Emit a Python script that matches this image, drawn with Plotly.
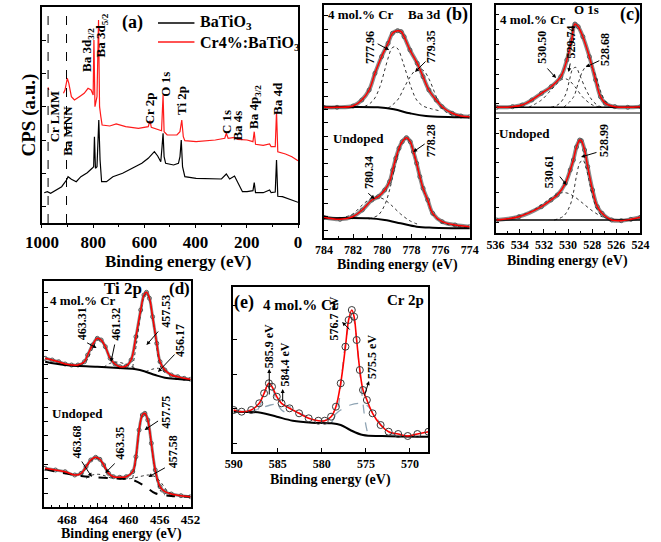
import plotly.graph_objects as go

W, H = 661, 542
FONT = "Liberation Serif"

# ---------------- (a) survey spectra ----------------
A_BLACK_E = [991, 979, 966, 948, 923, 904, 898, 885, 866, 848, 823, 804, 798, 795, 791, 785, 778, 773, 767, 748,
             723, 685, 648, 610, 585, 567, 561, 548, 536, 531, 527, 523, 517, 486, 467, 461, 456, 451, 442, 398,
             348, 299, 280, 267, 248, 236, 224, 217, 199, 176, 171, 166, 136, 111, 105, 89, 84, 79, 61, 36, 11, 0]
A_BLACK_Y = [30.3, 31.3, 29.7, 32.3, 36.3, 43, 46.3, 43.7, 41.3, 46.3, 50.3, 54.7, 56.3, 86.3, 54.7, 56.3, 103, 63, 41.3, 41.3,
             46.3, 49.7, 54.7, 59.7, 64.7, 69, 71.3, 67, 61.3, 76.3, 89.7, 66.3, 59.7, 58, 59.7, 66.3, 83, 56.3, 46.3, 44.7,
             44.7, 44, 49, 44, 47, 41.3, 34.7, 31.3, 31.3, 32.3, 40.3, 30.3, 30.3, 33, 30.3, 31, 63, 26.7, 26.3, 24, 22, 20.7]
A_RED_E = [976, 973, None, 916, 910, 901, 895, 885, 873, 854, 835, 820, 808, 800, 797, 793, 785, 779, 775, 770,
           765, 735, 710, 673, 623, 585, 578, 573, 548, 533, 527, 523, 511, 473, 461, 454, 448, 442, 398, 323,
           286, 280, 273, 248, 236, 199, 176, 171, 166, 136, 111, 105, 89, 84, 79, 49, 24, 0]
A_RED_Y = [135.7, 133, None, 129.7, 133, 144.7, 139.7, 126.3, 123, 126.3, 129.7, 134.7, 133, 128, 183, 116.3, 126.3, 203, 116.3, 106.3,
           98, 97, 99, 96.3, 94.7, 96.3, 102.3, 95.7, 93.7, 92.3, 128, 91.3, 88, 88, 91.3, 103, 86.3, 82.3, 81.3, 83,
           84.7, 89.7, 84.7, 85.7, 83.7, 83, 81.3, 91.3, 78.7, 77.7, 79, 76.3, 76.3, 111.3, 71.3, 69, 66.3, 62.3]
A_REF_LINES_E = [976, 904]
A_TICKS = [1000, 800, 600, 400, 200, 0]
A_PEAK_LABELS = ["Cr LMM", "Ba MNN", "Ba 3d<sub>3/2</sub>", "Ba 3d<sub>5/2</sub>", "Cr 2p", "O 1s", "Ti 2p",
                 "C 1s", "Ba 4s", "Ba 4p<sub>3/2</sub>", "Ba 4d"]
A_LEGEND = ["BaTiO<sub>3</sub>", "Cr4%:BaTiO<sub>3</sub>"]

# ---------------- (b) Ba 3d ----------------
B_TOP_E = [784, 783.1, 782.0, 781.4, 780.9, 780.5, 780.05, 779.6, 779.3, 778.95, 778.7, 778.5, 778.1, 777.6, 777.2,
           776.8, 776.3, 775.9, 775.2, 774.6, 774]
B_TOP_Y = [130.7, 130.7, 132, 138, 148, 164.7, 181.3, 194.7, 204.7, 207.3, 206.3, 201.3, 188, 174.7, 161.3,
           148, 138, 131.3, 124.7, 122, 121.3]
B_TOP_BG_E = [784, 780.3, 779.2, 778.1, 777.0, 774]
B_TOP_BG_Y = [130.7, 130.7, 128.7, 124.7, 122, 120.7]
B_TOP_C1_E = [782.03, 781.15, 780.6, 780.16, 779.83, 779.57, 779.35, 779.13, 778.91, 778.63, 778.3, 777.97, 777.64, 777.2, 776.65, 776.1]
B_TOP_C1_Y = [130.7, 132, 138, 151.3, 168, 181.3, 189.7, 191.3, 188.7, 178, 163, 148.7, 138, 132, 129.3, 127.3]
B_TOP_C2_E = [779.61, 778.95, 778.52, 778.08, 777.75, 777.42, 777.09, 776.76, 776.43, 776.1, 775.66, 775.23, 774.57]
B_TOP_C2_Y = [129.7, 138, 149.7, 161.3, 167.3, 169.3, 166.3, 158, 146.3, 134.7, 126.3, 123, 121.3]
B_BOT_E = [784, 782.9, 782.03, 781.37, 780.71, 780.27, 779.83, 779.5, 779.28, 779.07, 778.85, 778.63, 778.34, 778.08,
           777.86, 777.64, 777.42, 777.2, 776.88, 776.54, 775.89, 775.0, 774]
B_BOT_Y = [20.7, 18.7, 21.3, 28, 38, 41.3, 48, 56.3, 68, 79.7, 89.7, 96.3, 100.3, 96.3, 86.3, 74.7, 61.3, 49.7, 38,
           24.7, 16.3, 13, 11.3]
B_BOT_BG_E = [784, 780.93, 779.83, 778.74, 777.64, 776.54, 774]
B_BOT_BG_Y = [19.7, 19.7, 18, 14.7, 11.3, 10.3, 9.7]
B_BOT_C1_E = [782.9, 782.03, 781.37, 780.84, 780.38, 779.92, 779.39, 778.74, 778.08, 777.42]
B_BOT_C1_Y = [19.5, 24, 33, 39, 41, 39, 33, 24, 17, 13]
B_BOT_C2_E = [780.93, 780.27, 779.83, 779.5, 779.18, 778.85, 778.6, 778.34, 778.08, 777.86, 777.64, 777.42, 777.2,
              776.88, 776.54, 775.89, 775.0, 774]
B_BOT_C2_Y = [19, 23, 33, 48, 68, 88, 97, 99.5, 96, 86, 74, 61, 49, 37, 24, 15.5, 12, 10.3]
B_TICKS = [784, 782, 780, 778, 776, 774]
B_LABELS = ["777.96", "779.35", "778.28", "780.34"]

# ---------------- (c) O 1s ----------------
C_TOP_E = [535.92, 534.6, 533.8, 533.0, 532.2, 531.4, 530.6, 530.1, 529.7, 529.43, 529.16, 528.77, 528.23, 527.71,
           527.31, 526.91, 526.12, 525.05, 524]
C_TOP_Y = [125.7, 126.3, 128, 133, 139.7, 146.3, 156.3, 173, 193, 209, 206.3, 196.3, 176.3, 153, 136.3, 129.7,
           126.3, 125.7, 126.3]
C_TOP_BG_E = [536, 524]
C_TOP_BG_Y = [125.7, 125.7]
C_TOP_C1_E = [533.27, 532.2, 531.41, 530.75, 530.36, 529.96, 529.43, 528.77, 527.97, 527.18]
C_TOP_C1_Y = [125.7, 133, 143, 151.3, 154.3, 153, 146.3, 135.7, 128, 125.7]
C_TOP_C2_E = [531.41, 530.75, 530.22, 529.88, 529.62, 529.35, 529.03, 528.5, 527.97, 527.44, 526.78]
C_TOP_C2_Y = [125.7, 129, 138, 153, 163.7, 165.7, 158, 143, 132.3, 127, 125.7]
C_TOP_C3_E = [530.36, 529.56, 529.16, 528.77, 528.37, 527.97, 527.57, 527.18, 526.78, 526.25]
C_TOP_C3_Y = [125.7, 135.7, 149.7, 162.3, 167.7, 164.7, 151.3, 138, 129.7, 126]
C_BOT_E = [535.92, 534.07, 532.21, 531.41, 530.89, 530.22, 529.82, 529.56, 529.3, 529.03, 528.9, 528.63, 528.37,
           527.97, 527.57, 527.18, 526.38, 525.59, 524.79, 524]
C_BOT_Y = [13, 16.3, 26.3, 33, 38, 49.7, 63, 73, 86, 93, 92.3, 83, 66.3, 43, 26.3, 19.7, 13, 12.3, 13.7, 15.7]
C_BOT_BG_E = [536, 524]
C_BOT_BG_Y = [13, 13]
C_BOT_C1_E = [535.13, 534.07, 533.0, 532.21, 531.41, 530.62, 530.09, 529.56, 528.77, 527.97, 527.18, 526.38]
C_BOT_C1_Y = [14, 17, 22, 28, 35, 40, 40, 37, 29.7, 22, 16.3, 13.5]
C_BOT_C2_E = [531.15, 530.36, 529.82, 529.56, 529.3, 529.03, 528.77, 528.5, 528.23, 527.97, 527.57, 527.18, 526.38]
C_BOT_C2_Y = [13, 17, 28, 40, 57, 70, 73, 65, 51, 37, 23, 17, 13.5]
C_DIVIDER_Y = 120
C_TICKS = [536, 534, 532, 530, 528, 526, 524]
C_LABELS = ["530.50", "529.74", "528.68", "530.61", "528.99"]

# ---------------- (d) Ti 2p ----------------
D_TOP_E = [470.83, 469.92, 469.08, 468.25, 467.42, 466.58, 465.75, 465.33, 464.71, 464.08, 463.58, 463.04, 462.42,
           461.79, 461.17, 460.33, 459.71, 459.08, 458.46, 458.04, 457.71, 457.33, 456.92, 456.38, 455.96, 455.33,
           454.5, 453.67, 452.83, 452]
D_TOP_Y = [148.7, 147, 145.3, 143, 142, 142, 145.3, 152, 162, 168.7, 167, 160.3, 148.7, 143, 140.3, 141, 147, 170.3,
           197, 212, 214.7, 208.7, 190.3, 163.7, 145.3, 137, 132, 130.3, 128.7, 127.7]
D_TOP_BG_E = [470.83, 468.25, 464.08, 460.75, 459.08, 457.83, 456.58, 455.33, 453.67, 452]
D_TOP_BG_Y = [145.3, 142, 140.3, 138.7, 137.7, 135.3, 132, 129.3, 128, 127]
D_TOP_C1_E = [466.17, 465.54, 465.13, 464.58, 464.08, 463.58, 463.04, 462.5, 462, 461.38]
D_TOP_C1_Y = [142, 145.3, 151, 160.3, 167, 166, 159.7, 150.3, 143.7, 141]
D_TOP_C2_E = [463.25, 462.42, 461.58, 460.75, 459.92, 459.08]
D_TOP_C2_Y = [139.7, 143.7, 145, 143.7, 141, 139]
D_TOP_C3_E = [459.5, 459, 458.46, 458.04, 457.71, 457.33, 456.92, 456.5, 456.08, 455.67, 455.13]
D_TOP_C3_Y = [139.7, 163.7, 193.7, 210.3, 213.7, 207.7, 189.7, 167, 145.3, 137, 133.7]
D_TOP_C4_E = [457.83, 457, 456.17, 455.33, 454.5, 453.67]
D_TOP_C4_Y = [135.3, 137.7, 138.7, 136.3, 132, 129.3]
D_BOT_E = [470.83, 469.5, 468.25, 467, 466.17, 465.54, 464.92, 464.29, 463.75, 463.25, 462.63, 462, 461.17, 460.33,
           459.5, 459.08, 458.67, 458.25, 457.92, 457.54, 457.08, 456.58, 455.96, 455.33, 454.5, 453.25, 452]
D_BOT_Y = [38.7, 37, 35.3, 32, 33.7, 40.3, 47, 49.7, 47.7, 42, 33.7, 30.3, 29.7, 30.3, 35.3, 50.3, 77, 92, 93.7, 87,
           63.7, 37, 20.3, 15.3, 13, 11.3, 10.3]
D_BOT_BG_E = [470.83, 466.17, 462, 459.5, 457.83, 456.58, 454.5, 452]
D_BOT_BG_Y = [37.7, 31, 28.7, 27, 20.3, 13.7, 11, 10.3]
D_BOT_C1_E = [466.17, 465.54, 464.92, 464.29, 463.75, 463.25, 462.63, 462]
D_BOT_C1_Y = [31, 38.7, 46, 48.7, 47, 41, 32.7, 28.7]
D_BOT_C2_E = [465.54, 464.71, 463.88, 463.04, 462.21]
D_BOT_C2_Y = [28.7, 32, 32.7, 31, 28.7]
D_BOT_C3_E = [459.5, 459.08, 458.67, 458.25, 457.92, 457.54, 457.08, 456.58, 455.96, 455.33]
D_BOT_C3_Y = [28.7, 47, 75.3, 91, 92.7, 86, 62, 35.3, 17, 12]
D_BOT_C4_E = [460.75, 459.5, 458.25, 457.42, 456.58, 455.75, 454.92, 454.08]
D_BOT_C4_Y = [27.7, 28.7, 31, 32, 30.3, 23.7, 15.3, 12]
D_TICKS = [468, 464, 460, 456, 452]
D_LABELS = ["463.31", "461.32", "457.53", "456.17", "463.68", "463.35", "457.75", "457.58"]

# ---------------- (e) Cr 2p ----------------
E_EXP_E = [590, 589.1, 588.01, 587.1, 586.55, 586.01, 585.65, 585.11, 584.57, 583.66, 582.58, 581.49, 580.4, 579.67,
           578.95, 578.4, 577.86, 577.32, 576.96, 576.6, 576.34, 576.05, 575.69, 575.33, 574.89, 574.24, 573.33,
           572.42, 571.34, 570.25, 569.16, 567.9]
E_EXP_Y = [42, 40.3, 42, 48.7, 58.7, 68.7, 65.3, 55.3, 48.7, 43.7, 38.7, 33.7, 31.3, 31.3, 35.3, 45.3, 68.7, 105.3,
           132, 142, 135.3, 112, 82, 62, 52, 38.7, 27, 20.3, 18, 16, 18, 20.3]
E_BG_E = [590, 586.92, 585.11, 583.3, 581.12, 578.95, 577.86, 576.78, 575.33, 573.15, 567.9]
E_BG_Y = [40.3, 39.3, 35.3, 31.3, 29.3, 28.7, 27, 22, 17, 16, 15.3]
E_C1_E = [587.28, 586.74, 586.27, 585.9, 585.54, 585.11, 584.57, 584.02]
E_C1_Y = [42, 52, 65.3, 68.7, 62, 50.3, 42, 39.3]
E_C2_E = [588.37, 586.92, 585.83, 584.75, 583.66, 582.58, 581.49]
E_C2_Y = [39.3, 43.7, 47, 48, 45.3, 39.3, 34.7]
E_C3_E = [578.95, 578.23, 577.79, 577.43, 577.07, 576.71, 576.41, 576.05, 575.69, 575.33, 575.04, 574.78]
E_C3_Y = [28.7, 42, 72, 102, 122, 134.7, 132.7, 112, 78.7, 48.7, 28.7, 18]
E_C4_E = [580.4, 578.95, 577.86, 576.78, 575.69, 574.97, 574.24, 573.51, 572.79, 571.7]
E_C4_Y = [28.7, 34.7, 42, 47, 48.7, 47, 40.3, 30.3, 22, 17]
E_TICKS = [590, 585, 580, 575, 570]
E_LABELS = ["576.7 eV", "585.9 eV", "584.4 eV", "575.5 eV"]

# ======================================================================
fig = go.Figure()


def add_line(xa, ya, E, Y, color, width, dash="solid", shape="spline"):
    fig.add_trace(go.Scatter(x=E, y=Y, xaxis=xa, yaxis=ya, mode="lines",
                             line=dict(color=color, width=width, dash=dash, shape=shape),
                             showlegend=False, hoverinfo="skip", connectgaps=False))


def add_exp(xa, ya, E, Y, msize, mcolor, band):
    if band > 0:
        fig.add_trace(go.Scatter(x=E, y=Y, xaxis=xa, yaxis=ya, mode="lines",
                                 line=dict(color="#8a8a8a", width=band, shape="spline"),
                                 showlegend=False, hoverinfo="skip"))
    fig.add_trace(go.Scatter(x=E, y=Y, xaxis=xa, yaxis=ya, mode="markers",
                             marker=dict(symbol="circle-open", size=msize, color=mcolor,
                                         line=dict(width=1, color=mcolor)),
                             showlegend=False, hoverinfo="skip"))


# (a)
add_line("x", "y", A_BLACK_E, A_BLACK_Y, "black", 1.2, shape="linear")
add_line("x", "y", A_RED_E, A_RED_Y, "#ff1a1a", 1.2, shape="linear")

# (b)
for (E, Y, comps, bg) in [
    (B_TOP_E, B_TOP_Y, [(B_TOP_C1_E, B_TOP_C1_Y), (B_TOP_C2_E, B_TOP_C2_Y)], (B_TOP_BG_E, B_TOP_BG_Y)),
    (B_BOT_E, B_BOT_Y, [(B_BOT_C1_E, B_BOT_C1_Y), (B_BOT_C2_E, B_BOT_C2_Y)], (B_BOT_BG_E, B_BOT_BG_Y)),
]:
    add_exp("x2", "y2", E, Y, 4, "#5a5a5a", 4)
    for ce, cy in comps:
        add_line("x2", "y2", ce, cy, "#333333", 1, dash="dot")
    add_line("x2", "y2", bg[0], bg[1], "black", 2)
    add_line("x2", "y2", E, Y, "red", 1.5)

# (c)
for (E, Y, comps, bg) in [
    (C_TOP_E, C_TOP_Y, [(C_TOP_C1_E, C_TOP_C1_Y), (C_TOP_C2_E, C_TOP_C2_Y), (C_TOP_C3_E, C_TOP_C3_Y)], (C_TOP_BG_E, C_TOP_BG_Y)),
    (C_BOT_E, C_BOT_Y, [(C_BOT_C1_E, C_BOT_C1_Y), (C_BOT_C2_E, C_BOT_C2_Y)], (C_BOT_BG_E, C_BOT_BG_Y)),
]:
    add_exp("x3", "y3", E, Y, 4, "#5a5a5a", 4)
    for ce, cy in comps:
        add_line("x3", "y3", ce, cy, "#333333", 1, dash="dot")
    add_line("x3", "y3", bg[0], bg[1], "black", 1.5)
    add_line("x3", "y3", E, Y, "red", 1.5)

# (d)
for (E, Y, comps, bg, bgdash) in [
    (D_TOP_E, D_TOP_Y, [(D_TOP_C1_E, D_TOP_C1_Y), (D_TOP_C2_E, D_TOP_C2_Y), (D_TOP_C3_E, D_TOP_C3_Y), (D_TOP_C4_E, D_TOP_C4_Y)],
     (D_TOP_BG_E, D_TOP_BG_Y), "solid"),
    (D_BOT_E, D_BOT_Y, [(D_BOT_C1_E, D_BOT_C1_Y), (D_BOT_C2_E, D_BOT_C2_Y), (D_BOT_C3_E, D_BOT_C3_Y), (D_BOT_C4_E, D_BOT_C4_Y)],
     (D_BOT_BG_E, D_BOT_BG_Y), "dash"),
]:
    add_exp("x4", "y4", E, Y, 4, "#5a5a5a", 3)
    for ce, cy in comps:
        add_line("x4", "y4", ce, cy, "#333333", 1, dash="dot")
    add_line("x4", "y4", bg[0], bg[1], "black", 2, dash=bgdash)
    add_line("x4", "y4", E, Y, "red", 1.5)

# (e)
for ce, cy in [(E_C1_E, E_C1_Y), (E_C2_E, E_C2_Y), (E_C3_E, E_C3_Y), (E_C4_E, E_C4_Y)]:
    add_line("x5", "y5", ce, cy, "#8fa4b4", 1.3, dash="dash")
add_line("x5", "y5", E_BG_E, E_BG_Y, "black", 2)
add_line("x5", "y5", E_EXP_E, E_EXP_Y, "red", 1.6)
add_exp("x5", "y5", E_EXP_E, E_EXP_Y, 7, "#3a3a3a", 0)


# ---------------- axes ----------------
def px_dom(a, b, horizontal=True):
    if horizontal:
        return [a / W, b / W]
    return [1 - b / H, 1 - a / H]


def xaxis(dom, rng, ticks, mdtick, fsize, tdir, tlen, anchor):
    d = dict(domain=px_dom(*dom), range=rng, tickmode="array", tickvals=ticks,
             ticktext=["<b>%s</b>" % t for t in ticks], showline=True, linecolor="black",
             linewidth=1.5, mirror=True, ticks=tdir, ticklen=tlen, tickwidth=1.2, tickcolor="black",
             tickfont=dict(family=FONT, size=fsize, color="black"), showgrid=False,
             zeroline=False, anchor=anchor, fixedrange=True)
    if mdtick:
        d["minor"] = dict(dtick=mdtick, tick0=ticks[-1], ticks=tdir, ticklen=2.5, tickcolor="black",
                          tickwidth=1, showgrid=False)
    return d


def yaxis(dom, rng, dtick, tick0, anchor):
    return dict(domain=px_dom(*dom, horizontal=False), range=rng, dtick=dtick, tick0=tick0, showline=True,
                linecolor="black", linewidth=1.5, mirror=True, ticks="inside", ticklen=4, tickwidth=1.2,
                tickcolor="black", showticklabels=False, showgrid=False, zeroline=False, anchor=anchor,
                fixedrange=True)


layout = dict(
    width=W, height=H, margin=dict(l=0, r=0, t=0, b=0), paper_bgcolor="white", plot_bgcolor="white",
    showlegend=False, font=dict(family=FONT, color="black"),
    xaxis=xaxis((26, 293), [1000, 0], A_TICKS, 100, 17, "outside", 3, "y"),
    yaxis=yaxis((7, 223), [0, 216], 33.3, 16.3, "x"),
    xaxis2=xaxis((320, 472), [784, 774], B_TICKS, 1, 12, "inside", 4, "y2"),
    yaxis2=yaxis((5, 238), [0, 233], 13.4, 8, "x2"),
    xaxis3=xaxis((499, 650), [536, 524], C_TICKS, 1, 12, "inside", 4, "y3"),
    yaxis3=yaxis((5, 233), [0, 228], 14.8, 11, "x3"),
    xaxis4=xaxis((28, 181), [471, 452], D_TICKS, 1, 13, "inside", 4, "y4"),
    yaxis4=yaxis((281, 507), [0, 226], 14.3, 14, "x4"),
    xaxis5=xaxis((225, 429), [590.1, 567.9], E_TICKS, None, 12, "inside", 4, "y5"),
    yaxis5=yaxis((287, 452), [0, 165], 34.5, 9, "x5"),
)

# ---------------- shapes ----------------
shapes = []
for e in A_REF_LINES_E:
    shapes.append(dict(type="line", xref="x", yref="y domain", x0=e, x1=e, y0=0, y1=1,
                       line=dict(color="black", width=1, dash="dash")))
shapes.append(dict(type="line", xref="x3 domain", yref="y3", x0=0, x1=1, y0=C_DIVIDER_Y, y1=C_DIVIDER_Y,
                   line=dict(color="black", width=1)))
# legend samples for (a)
for py, col in [(23, "black"), (42, "#ff1a1a")]:
    shapes.append(dict(type="line", xref="paper", yref="paper", x0=147 / W, x1=185 / W, y0=1 - py / H, y1=1 - py / H,
                       line=dict(color=col, width=1.5)))
layout["shapes"] = shapes

# ---------------- annotations ----------------
anns = []


def txt(px, py, text, size, angle=0, xanchor="center"):
    anns.append(dict(x=px / W, y=1 - py / H, xref="paper", yref="paper", text="<b>%s</b>" % text, showarrow=False,
                     textangle=angle, xanchor=xanchor, yanchor="middle", borderpad=0,
                     font=dict(family=FONT, size=size, color="black")))


def arrow(hx, hy, tx, ty):
    anns.append(dict(x=hx / W, y=1 - hy / H, xref="paper", yref="paper", text="", showarrow=True,
                     ax=tx - hx, ay=ty - hy, arrowhead=2, arrowsize=0.8, arrowwidth=1, arrowcolor="black"))


# (a)
txt(120, 22, "(a)", 18)
for lab, (px, py) in zip(A_PEAK_LABELS, [(40, 117), (53, 131), (74, 50), (88, 35), (139, 108), (154, 84), (172, 100),
                                         (218, 122), (230, 126), (247, 107), (271, 98)]):
    txt(px, py, lab, 13, angle=-90)
txt(190, 22, A_LEGEND[0], 16, xanchor="left")
txt(190, 43, A_LEGEND[1], 16, xanchor="left")
txt(168, 261, "Binding energy (eV)", 17)
txt(12, 115, "CPS (a.u.)", 19, angle=-90)

# (b)
txt(323, 15, "4 mol.% Cr", 13, xanchor="left")
txt(425, 15, "Ba 3d", 13)
txt(459, 15, "(b)", 18)
txt(328, 138, "Undoped", 13, xanchor="left")
for lab, (px, py) in zip(B_LABELS, [(368, 47), (432, 47), (432, 141), (367, 173)]):
    txt(px, py, lab, 12, angle=-90)
arrow(388, 50, 375, 43)
arrow(415, 72, 427, 60)
arrow(413, 152, 426, 143)
arrow(373, 199, 365, 192)
txt(397, 265, "Binding energy (eV)", 14)

# (c)
txt(594, 10, "O 1s", 13)
txt(639, 15, "(c)", 18)
txt(503, 20, "4 mol.% Cr", 13, xanchor="left")
txt(502, 133, "Undoped", 13, xanchor="left")
for lab, (px, py) in zip(C_LABELS, [(547, 47), (578, 42), (613, 49), (555, 172), (612, 141)]):
    txt(px, py, lab, 12, angle=-90)
arrow(562, 78, 552, 67)
arrow(575, 72, 577, 62)
arrow(593, 67, 608, 60)
arrow(573, 185, 565, 175)
arrow(588, 157, 605, 152)
txt(574, 261, "Binding energy (eV)", 14)

# (d)
txt(111, 288, "Ti 2p", 17)
txt(169, 288, "(d)", 17)
txt(33, 300, "4 mol.% Cr", 13, xanchor="left")
txt(35, 413, "Undoped", 13, xanchor="left")
for lab, (px, py) in zip(D_LABELS, [(68, 324), (103, 324), (155, 311), (170, 341), (63, 442), (107, 443),
                                    (155, 412), (163, 452)]):
    txt(px, py, lab, 12, angle=-90)
arrow(83, 348, 72, 342)
arrow(98, 362, 102, 343)
arrow(135, 345, 148, 330)
arrow(147, 372, 165, 353)
arrow(78, 477, 67, 460)
arrow(92, 473, 103, 462)
arrow(133, 430, 148, 420)
arrow(137, 477, 155, 467)
txt(109, 534, "Binding energy (eV)", 14)

# (e)
txt(237, 302, "(e)", 18)
txt(255, 305, "4 mol.% Cr", 15, xanchor="left")
txt(405, 300, "Cr 2p", 15)
for lab, (px, py) in zip(E_LABELS, [(330, 319), (263, 346), (279, 365), (370, 357)]):
    txt(px, py, lab, 12, angle=-90)
arrow(339, 322, 348, 331)
arrow(263, 369, 263, 396)
arrow(277, 389, 277, 403)
arrow(367, 381, 362, 397)
txt(327, 480, "Binding energy (eV)", 14)

layout["annotations"] = anns
fig.update_layout(**layout)
fig.write_html("out.html", config={"displayModeBar": False},
               post_script="document.body.style.margin='0px';document.body.style.overflow='hidden';")
